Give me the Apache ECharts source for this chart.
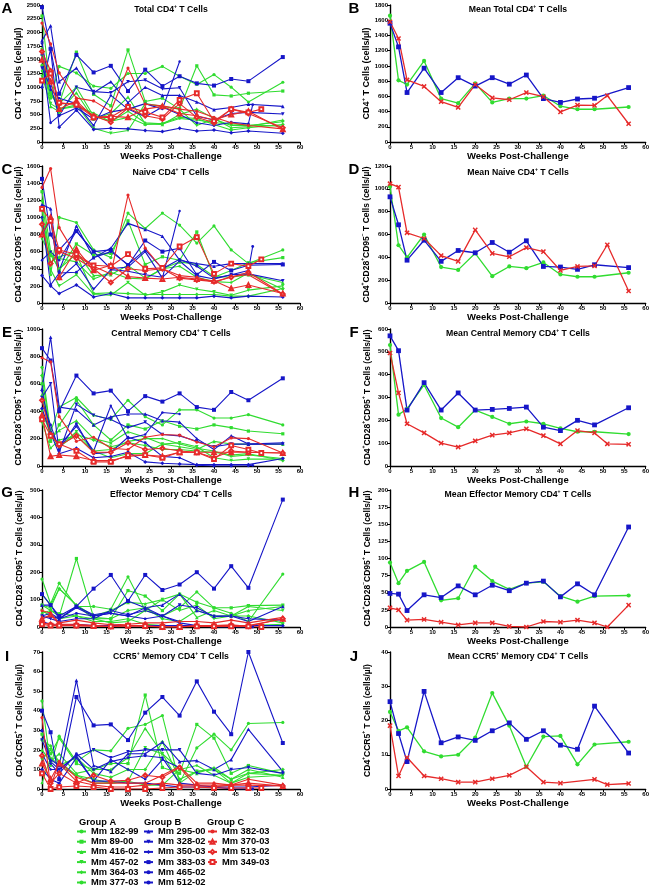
<!DOCTYPE html>
<html><head><meta charset="utf-8">
<script src="https://cdn.jsdelivr.net/npm/echarts@6/dist/echarts.min.js"></script>
<style>html,body{margin:0;padding:0;background:#fff}#c{width:652px;height:887px}</style>
</head><body><div id="c"></div>
<script>
// ---------- DATA ----------
const weeks    = [0,2,4,8,12,16,20,24,28,32,36,40,44,48,56];
const weeks465 = [0,2,4,8,12,16,20,24,28,32,36,40,44,48,49];
const weeks512 = [0,2,4,8,12,16,20,24,28,32];
const weeks349 = [0,2,4,8,12,16,20,24,28,32,36,40,44,48,51];
const meanWeeksAB = [0,2,4,8,12,16,20,24,28,32,36,40,44,48,56];
const meanWeeksC  = [0,2,4,8,12,16,20,24,28,32,36,40,44,48,51,56];

const animalsA = ['Mm 182-99','Mm 89-00','Mm 416-02','Mm 457-02','Mm 364-03','Mm 377-03'];
const animalsB = ['Mm 295-00','Mm 328-02','Mm 350-03','Mm 383-03','Mm 465-02','Mm 512-02'];
const animalsC = ['Mm 382-03','Mm 370-03','Mm 513-02','Mm 349-03'];
const weeksByB = [weeks, weeks, weeks, weeks, weeks465, weeks512];
const weeksByC = [weeks, weeks, weeks, weeks349];

// Total CD4+
const totalA = [
  [1700,800,1380,1260,1020,980,1250,1250,1380,1200,1050,1230,1000,730,1090],
  [2300,900,700,1640,870,660,1680,740,800,600,1390,860,840,890,930],
  [1600,650,550,900,420,520,820,330,320,500,600,430,260,280,400],
  [1200,700,600,680,250,160,210,700,650,600,300,420,300,300,370],
  [1400,850,700,1000,470,380,450,320,340,450,430,320,220,260,320],
  [1300,900,600,650,530,370,560,350,330,430,400,350,330,310,290]];
const totalB = [
  [1850,2120,1100,1350,900,1100,720,1000,850,850,730,590,630,690,650],
  [1350,1000,480,1000,920,900,1100,1130,970,990,470,400,520,540,510],
  [1000,1700,270,580,230,250,240,210,190,250,200,220,170,200,160],
  [2460,1700,880,1590,1270,1390,930,1320,1020,1200,1070,1030,1150,1110,1550],
  [1600,350,480,620,420,550,600,460,640,500,350,300,360,330,680],
  [1800,950,800,700,300,850,600,700,600,1470]];
const totalC = [
  [2170,1790,1260,800,750,560,1350,690,660,600,560,450,350,300,240],
  [1500,1100,600,750,450,470,450,600,650,520,480,400,500,560,230],
  [1650,1300,700,700,480,360,620,480,420,700,450,350,600,520,260],
  [1120,1250,720,680,450,450,640,550,450,770,890,380,600,540,600]];
const meanTotalA = [1660,810,755,1065,570,510,770,520,570,570,610,470,430,430,460];
const meanTotalB = [1560,1250,650,970,650,845,735,845,760,880,570,520,565,575,715];
const meanTotalC = [1580,1360,815,730,530,455,755,580,555,650,595,395,485,480,610,240];

// Naive
const naiveA = [
  [1100,330,1000,940,620,530,1050,870,1050,910,700,900,620,460,620],
  [1300,600,380,690,560,580,960,450,540,500,830,300,380,470,530],
  [1200,480,540,600,320,330,440,290,400,480,450,310,300,330,240],
  [900,390,200,330,100,90,240,90,130,210,160,130,90,150,200],
  [1000,560,400,570,110,120,110,100,100,100,100,100,80,80,170],
  [750,550,520,480,280,360,290,280,400,430,300,250,240,350,160]];
const naiveB = [
  [1150,1100,380,900,530,640,930,860,780,500,460,430,460,460,460],
  [800,980,280,460,160,390,370,330,300,490,320,280,330,340,260],
  [320,200,110,210,70,110,60,60,60,60,60,80,60,80,70],
  [1450,800,620,840,600,620,440,730,600,640,330,480,380,440,450],
  [1000,210,350,360,530,600,450,620,400,510,430,290,330,380,660],
  [500,600,500,840,600,400,420,600,290,1075]];
const naiveC = [
  [1350,1570,880,550,430,340,1260,640,400,320,300,240,310,330,100],
  [800,1000,300,630,380,440,310,290,280,300,280,260,170,210,110],
  [920,460,600,520,400,240,400,380,400,290,270,250,300,360,105],
  [1100,960,620,570,440,430,570,400,410,660,770,340,460,430,510]];
const meanNaiveA = [1020,506,400,600,315,290,435,235,320,305,355,250,230,230,265];
const meanNaiveB = [930,685,375,550,365,460,440,530,445,545,320,315,295,335,310];
const meanNaiveC = [1045,1015,615,565,415,365,640,435,405,485,450,285,320,325,510,105];

// Central memory
const cmA = [
  [720,250,430,500,370,340,480,360,300,410,410,350,350,375,300],
  [600,180,300,480,300,190,300,270,330,290,270,300,280,255,235],
  [520,200,260,330,200,170,250,210,160,140,120,180,160,160,160],
  [400,230,140,250,110,60,90,90,160,170,140,60,40,50,50],
  [660,240,140,230,190,140,170,150,120,120,110,100,80,90,40],
  [320,130,190,220,110,120,180,200,200,160,130,110,70,80,55]];
const cmB = [
  [560,940,430,410,300,360,380,380,330,320,200,120,220,160,170],
  [500,600,100,450,370,340,280,320,230,220,180,140,160,160,160],
  [420,240,90,130,60,70,100,30,20,15,10,10,10,10,55],
  [860,770,400,660,530,550,400,510,470,530,430,410,540,480,640],
  [470,300,120,310,90,100,210,170,70,60,5,0,0,2,5],
  [550,250,150,290,110,440,200,230,390,380]];
const cmC = [
  [790,760,360,180,210,130,120,210,230,225,175,140,205,200,95],
  [370,70,80,70,40,40,70,80,70,100,100,100,100,100,95],
  [480,230,150,220,100,100,170,120,130,110,100,60,110,100,95],
  [340,220,160,110,30,30,80,80,60,100,100,50,150,120,95]];
const meanCmA = [530,225,250,355,210,170,245,215,185,195,185,165,150,150,140];
const meanCmB = [570,505,245,365,245,320,245,248,252,258,170,155,200,180,255];
const meanCmC = [495,320,185,145,100,83,110,135,145,163,133,97,155,145,97,95];

// Effector memory
const emA = [
  [175,85,160,75,75,65,183,60,40,70,128,70,50,20,193],
  [80,60,40,250,35,30,133,113,60,120,90,70,70,78,80],
  [120,80,140,80,40,60,90,85,100,120,35,60,40,60,75],
  [60,40,30,40,30,15,20,60,100,60,80,30,40,75,60],
  [80,70,140,80,30,30,60,70,30,20,60,40,40,40,15],
  [50,60,50,40,20,20,30,10,5,5,5,5,5,5,10]];
const emB = [
  [80,80,30,75,45,55,95,70,80,120,60,40,40,20,75],
  [40,30,20,30,30,60,45,60,40,80,70,38,40,30,25],
  [20,10,5,10,5,5,5,5,5,5,5,5,5,5,5],
  [120,80,40,75,140,190,95,190,135,155,200,140,222,143,465],
  [40,50,30,50,40,50,40,30,40,15,5,0,0,0,0],
  [30,40,30,70,40,50,40,70,40,20]];
const emC = [
  [60,50,15,25,15,8,10,15,15,20,20,15,25,15,35],
  [30,45,10,10,5,2,5,5,0,0,5,5,5,5,30],
  [15,10,10,5,5,2,5,3,0,0,5,5,8,3,30],
  [10,5,5,5,3,2,5,3,0,0,2,2,2,2,0]];
const meanEmA = [94,64,82,95,39,42,88,67,55,64,66,45,37,45,46];
const meanEmB = [49,48,24,47,43,60,47,61,53,64,67,44,63,47,146];
const meanEmC = [28,25,10,11,7,3,6,6,1,0,8,7,10,6,0,32];

// CCR5+ memory
const ccr5A = [
  [45,12,27,14,20,19.5,31,33,37.5,3,21,28,20,33.5,34],
  [28,18,26,13,10,13,13,48,11,8,33,26,8,12,8],
  [20,14,18,8,10,10,16,31,18,10,8,11,5,10,6],
  [15,20,14,7,5,3,4,21,18,3,9,10,3,6,7],
  [25,22,12,16,8,6,10,10,24,5,9,10,5,8,10],
  [3,16,12,7,3,3,4,2,2,10,12,7,3,8,7]];
const ccr5B = [
  [30,15,12,55.5,12,9,18,18,24,14,14.5,10,15,30.5,9],
  [25,14,10,17,20,16,19,20,20,20,8,7,10,11,8],
  [10,5,3,16,4,4,3,3,2,1,1,1,1,1,2],
  [40,29,5,47,32.5,33,25,39,47,37.5,55,39.5,28,70,23.5],
  [30,13,8,18,10,14,16,17,16,3,2,1,0,0,0],
  [18,10,10,17,4,15,10,5,15,11]];
const ccr5C = [
  [36.5,1,14,6,3,3,3,3,7,11.5,3,3,2,5,2],
  [13,5,13,4,2,1,1,2,3,2,2,2,2,3,1.5],
  [17,3,8,3,7,4,4.5,7,6,11,1,1,2,2,1.5],
  [8,0,1,1.5,1,0,0,0,0.5,1,1,0.5,0.5,0.5,0.5]];
const meanCcr5A = [22.5,17,18,11,9.5,10,15,28,18.5,6.5,15.3,15.5,7.2,13,13.8];
const meanCcr5B = [25.5,16.2,8,28.5,13.5,15.2,14.2,17,19.3,14.5,17,12.8,11.6,24.2,10.5];
const meanCcr5C = [18.5,3.8,9.2,3.8,3,2,2,3,4,6.5,2,1.7,null,2.8,1.3,1.6];

// ---------- STYLE ----------
const FONT = "'Liberation Sans', Arial, Helvetica, sans-serif";
const GREEN = '#30dc30', BLUE = '#1616c8', RED = '#e62a2a';
const TOPS = [5, 166, 329, 490, 652], PH = 137;
const LX = 42, LW = 258, RX = 390, RW = 256;
const XMARK = 'path://M2,0L5,3L8,0L10,2L7,5L10,8L8,10L5,7L2,10L0,8L3,5L0,2Z';

const symA = [['circle',3.2,0],['rect',3.2,0],['triangle',3.6,0],['triangle',3.6,180],['diamond',4,0],['circle',2.4,0]];
const symB = [['triangle',3.6,0],['triangle',3.6,180],['diamond',4,0],['rect',4,0],['circle',2.8,0],['circle',2.4,0]];
const symC = [['circle',3.2,0],['emptyTriangle',3.8,0],['emptyDiamond',3.8,0],['emptyRect',3.8,0]];

function rt(parts){ // alternate normal / superscript
  return parts.map((p,i)=> i%2===0 ? (p? '{b|'+p+'}' : '') : '{s|'+p+'}').join('');
}
function richDef(sz){
  return { b:{fontFamily:FONT,fontWeight:'bold',fontSize:sz,color:'#000',lineHeight:sz+3},
           s:{fontFamily:FONT,fontWeight:'bold',fontSize:Math.round(sz*0.62),color:'#000',verticalAlign:'top'} };
}
const yl = {
  total: rt(['CD4','+',' T Cells (cells/µl)']),
  naive: rt(['CD4','+','CD28','+','CD95','−',' T Cells (cells/µl)']),
  cm:    rt(['CD4','+','CD28','+','CD95','+',' T Cells (cells/µl)']),
  em:    rt(['CD4','+','CD28','−','CD95','+',' T Cells (cells/µl)']),
  ccr5:  rt(['CD4','+','CCR5','+',' T Cells (cells/µl)'])
};

const panels = [
 {L:'A', col:0,row:0,max:2500,iv:250,title:['Total CD4','+',' T Cells'],y:'total',ind:[totalA,totalB,totalC]},
 {L:'B', col:1,row:0,max:1800,iv:200,title:['Mean Total CD4','+',' T Cells'],y:'total',mean:[meanTotalA,meanTotalB,meanTotalC]},
 {L:'C', col:0,row:1,max:1600,iv:200,title:['Naive CD4','+',' T Cells'],y:'naive',ind:[naiveA,naiveB,naiveC]},
 {L:'D', col:1,row:1,max:1200,iv:200,title:['Mean Naive CD4','+',' T Cells'],y:'naive',mean:[meanNaiveA,meanNaiveB,meanNaiveC]},
 {L:'E', col:0,row:2,max:1000,iv:200,title:['Central Memory CD4','+',' T Cells'],y:'cm',ind:[cmA,cmB,cmC]},
 {L:'F', col:1,row:2,max:600,iv:100,title:['Mean Central Memory CD4','+',' T Cells'],y:'cm',mean:[meanCmA,meanCmB,meanCmC]},
 {L:'G', col:0,row:3,max:500,iv:100,title:['Effector Memory CD4','+',' T Cells'],y:'em',ind:[emA,emB,emC]},
 {L:'H', col:1,row:3,max:200,iv:25,title:['Mean Effector Memory CD4','+',' T Cells'],y:'em',mean:[meanEmA,meanEmB,meanEmC]},
 {L:'I', col:0,row:4,max:70,iv:10,title:['CCR5','+',' Memory CD4','+',' T Cells'],y:'ccr5',ind:[ccr5A,ccr5B,ccr5C]},
 {L:'J', col:1,row:4,max:40,iv:10,title:['Mean CCR5','+',' Memory CD4','+',' T Cells'],y:'ccr5',mean:[meanCcr5A,meanCcr5B,meanCcr5C]}
];
const titleY = [10, 173, 334, 495, 657];
const letterY = [9, 170, 333, 493, 657];

const grids=[], xAxes=[], yAxes=[], series=[], graphics=[];
const axisLine = {show:true, onZero:false, lineStyle:{color:'#000', width:1.4}};
const axisTick = {show:true, length:3, lineStyle:{color:'#000', width:1}};
const tickLabel = {fontFamily:FONT, fontWeight:'bold', fontSize:6, color:'#000', margin:2, formatter: v => String(v)};

function line(pi, name, xs, ys, color, sym, size, rot, lw){
  series.push({type:'line', name, xAxisIndex:pi, yAxisIndex:pi,
    data: xs.map((x,i)=>[x, ys[i]]), connectNulls:true,
    symbol:sym, symbolSize:size, symbolRotate:rot, showSymbol:true,
    lineStyle:{color, width:lw}, itemStyle:{color, borderColor:color, borderWidth: sym.indexOf('empty')===0?1:0},
    emphasis:{disabled:true}, z:2});
}

panels.forEach((p, pi)=>{
  const left = p.col ? RX : LX, width = p.col ? RW : LW, top = TOPS[p.row];
  grids.push({left, top, width, height:PH});
  xAxes.push({type:'value', gridIndex:pi, min:0, max:60, interval:5,
    axisLine, axisTick, axisLabel:tickLabel, splitLine:{show:false},
    name:'Weeks Post-Challenge', nameLocation:'middle', nameGap:9,
    nameTextStyle:{fontFamily:FONT, fontWeight:'bold', fontSize:9.5, color:'#000'}});
  yAxes.push({type:'value', gridIndex:pi, min:0, max:p.max, interval:p.iv,
    axisLine, axisTick, axisLabel:tickLabel, splitLine:{show:false},
    name: yl[p.y], nameLocation:'middle', nameGap: (p.y==='total'? 16 : 17),
    nameTextStyle:{rich: richDef(p.y==='total'?9:8.5)}});
  const cx = left + width/2;
  graphics.push({type:'text', position:[cx, titleY[p.row]], style:{text: rt(p.title), rich: richDef(8.7), align:'center', verticalAlign:'middle'}});
  graphics.push({type:'text', position:[p.col? 354 : 7, letterY[p.row]], style:{text:p.L, fontFamily:FONT, fontWeight:'bold', fontSize:15, fill:'#000', align:'center', verticalAlign:'middle'}});

  if (p.ind){
    p.ind[0].forEach((ys,k)=> line(pi, animalsA[k], weeks, ys, GREEN, symA[k][0], symA[k][1], symA[k][2], 1.1));
    p.ind[1].forEach((ys,k)=> line(pi, animalsB[k], weeksByB[k], ys, BLUE, symB[k][0], symB[k][1], symB[k][2], 1.1));
    p.ind[2].forEach((ys,k)=> line(pi, animalsC[k], weeksByC[k], ys, RED, symC[k][0], symC[k][1], symC[k][2], 1.1));
  } else {
    line(pi, 'Group A mean', meanWeeksAB, p.mean[0], GREEN, 'circle', 4.2, 0, 1.3);
    line(pi, 'Group B mean', meanWeeksAB, p.mean[1], BLUE, 'rect', 4.8, 0, 1.3);
    line(pi, 'Group C mean', meanWeeksC, p.mean[2], RED, XMARK, 5.2, 0, 1.3);
  }
});

const groupHead = [['Group A',79],['Group B',144],['Group C',207]];
groupHead.forEach(([t,x])=> graphics.push({type:'text', position:[x,822], style:{text:t, fontFamily:FONT, fontWeight:'bold', fontSize:9.3, fill:'#000', align:'left', verticalAlign:'middle'}}));

function legendAt(data, left){
  return {data, left, top:827, orient:'vertical', padding:0, itemWidth:9, itemHeight:5, itemGap:1.2,
    selectedMode:false, textStyle:{fontFamily:FONT, fontWeight:'bold', fontSize:9.3, color:'#000', lineHeight:9}};
}

const chart = echarts.init(document.getElementById('c'), null, {renderer:'canvas'});
chart.setOption({
  animation:false, backgroundColor:'#fff',
  grid:grids, xAxis:xAxes, yAxis:yAxes, series,
  legend:[legendAt(animalsA,76), legendAt(animalsB,143), legendAt(animalsC,207)],
  graphic:{elements:graphics}
});
</script></body></html>
